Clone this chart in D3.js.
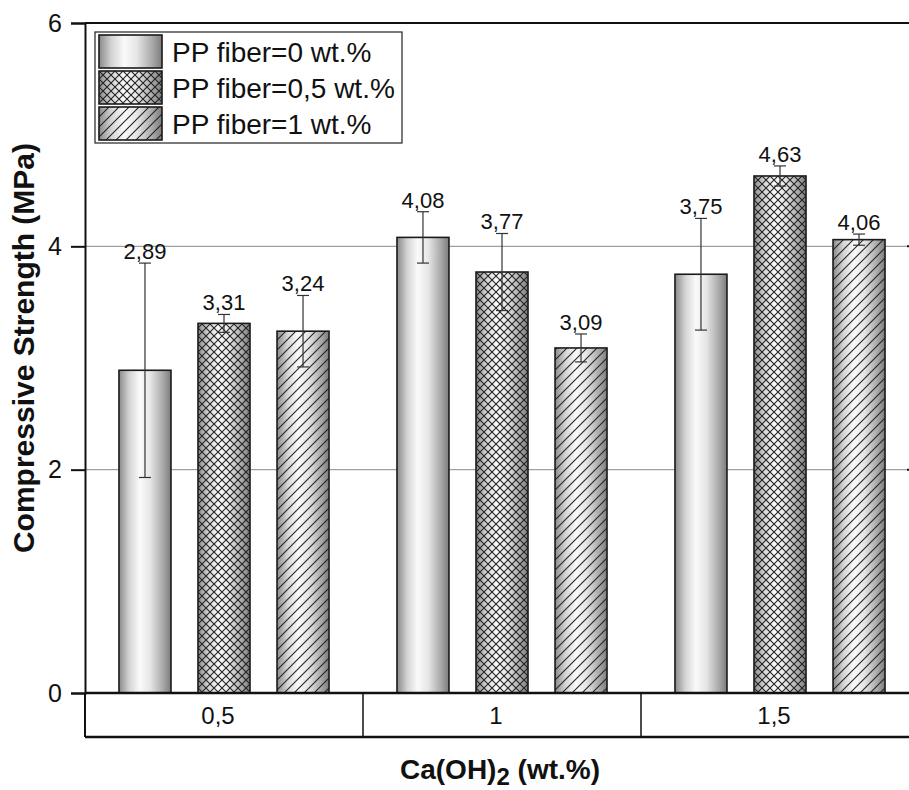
<!DOCTYPE html>
<html>
<head>
<meta charset="utf-8">
<script src="https://cdn.jsdelivr.net/npm/d3@7"></script>
<style>
  body { margin: 0; background: #fff; }
  svg { display: block; font-family: 'Liberation Sans', Arial, sans-serif; }
</style>
</head>
<body>
<svg width="909" height="790"></svg>
<script>
const categories = ['0,5', '1', '1,5'];
const series = ['PP fiber=0 wt.%', 'PP fiber=0,5 wt.%', 'PP fiber=1 wt.%'];
const fiber0 = [2.89, 4.08, 3.75];
const fiber05 = [3.31, 3.77, 4.63];
const fiber1 = [3.24, 3.09, 4.06];
const err0 = [0.96, 0.23, 0.5];
const err05 = [0.08, 0.345, 0.09];
const err1 = [0.32, 0.125, 0.05];
const yTicks = [0, 2, 4, 6];

const values = [fiber0, fiber05, fiber1];
const errors = [err0, err05, err1];
const fills = ['url(#grad)', 'url(#cross)', 'url(#hatch)'];
const font = "'Liberation Sans', Arial, sans-serif";

const data = [];
categories.forEach((c, ci) => {
    series.forEach((s, si) => {
        data.push({ cat: c, series: s, si: si, value: values[si][ci], err: errors[si][ci] });
    });
});

const svg = d3.select('svg');
const plotLeft = 85, plotRight = 919, plotTop = 23, plotBottom = 693;

const x = d3.scaleBand().domain(categories).range([plotLeft, plotRight]);
const x1 = d3.scaleBand().domain(series).range([0, x.bandwidth()])
    .paddingInner(0.342).paddingOuter(0.43);
const y = d3.scaleLinear().domain([0, 6]).range([plotBottom, plotTop]);

// defs: cylinder gradient + patterns
const defs = svg.append('defs');
const grad = defs.append('linearGradient').attr('id', 'grad')
    .attr('x1', '0%').attr('x2', '100%').attr('y1', '0%').attr('y2', '0%');
[[0, '#8a8a8a'], [0.2, '#d4d4d4'], [0.4, '#fafafa'], [0.6, '#e6e6e6'], [0.85, '#a8a8a8'], [1, '#7c7c7c']]
    .forEach(d => grad.append('stop').attr('offset', d[0]).attr('stop-color', d[1]));

const cross = defs.append('pattern').attr('id', 'cross').attr('patternUnits', 'userSpaceOnUse')
    .attr('width', 8).attr('height', 8);
cross.append('path').attr('d', 'M0,0 L8,8 M8,0 L0,8')
    .attr('stroke', '#222').attr('stroke-width', 1.1).attr('fill', 'none');

const hatch = defs.append('pattern').attr('id', 'hatch').attr('patternUnits', 'userSpaceOnUse')
    .attr('width', 10).attr('height', 10);
hatch.append('path').attr('d', 'M-2,12 L12,-2 M-2,2 L2,-2 M8,12 L12,8')
    .attr('stroke', '#222').attr('stroke-width', 1.1).attr('fill', 'none');

// gridlines
svg.append('g').selectAll('line').data([2, 4]).enter().append('line')
    .attr('x1', plotLeft).attr('x2', plotRight)
    .attr('y1', d => y(d)).attr('y2', d => y(d))
    .attr('stroke', '#a0a0a0').attr('stroke-width', 1.2);

// bars
const groups = svg.append('g').selectAll('g').data(data).enter().append('g')
    .attr('transform', d => 'translate(' + (x(d.cat) + x1(d.series)) + ',0)');

groups.append('rect')
    .attr('y', d => y(d.value)).attr('width', x1.bandwidth())
    .attr('height', d => plotBottom - y(d.value))
    .attr('fill', 'url(#grad)');
groups.filter(d => d.si > 0).append('rect')
    .attr('y', d => y(d.value)).attr('width', x1.bandwidth())
    .attr('height', d => plotBottom - y(d.value))
    .attr('fill', d => fills[d.si]);
groups.append('rect')
    .attr('y', d => y(d.value)).attr('width', x1.bandwidth())
    .attr('height', d => plotBottom - y(d.value))
    .attr('fill', 'none').attr('stroke', '#1a1a1a').attr('stroke-width', 1.6);

// error bars
const bw = x1.bandwidth();
const eb = groups.append('g').attr('stroke', '#333').attr('stroke-width', 1.2);
eb.append('line').attr('x1', bw / 2).attr('x2', bw / 2)
    .attr('y1', d => y(d.value + d.err)).attr('y2', d => y(d.value - d.err));
eb.append('line').attr('x1', bw / 2 - 6).attr('x2', bw / 2 + 6)
    .attr('y1', d => y(d.value + d.err)).attr('y2', d => y(d.value + d.err));
eb.append('line').attr('x1', bw / 2 - 6).attr('x2', bw / 2 + 6)
    .attr('y1', d => y(d.value - d.err)).attr('y2', d => y(d.value - d.err));

// value labels
groups.append('text')
    .attr('x', bw / 2).attr('y', d => y(d.value + d.err) - 4)
    .attr('text-anchor', 'middle').attr('font-size', 22).attr('fill', '#111')
    .text(d => d3.format('.2f')(d.value).replace('.', ','));

// frame
svg.append('line').attr('x1', plotLeft).attr('x2', plotRight).attr('y1', plotTop).attr('y2', plotTop)
    .attr('stroke', '#111').attr('stroke-width', 2);
svg.append('g').selectAll('line').data(yTicks).enter().append('line')
    .attr('x1', plotRight - 12).attr('x2', plotRight)
    .attr('y1', d => y(d)).attr('y2', d => y(d))
    .attr('stroke', '#111').attr('stroke-width', 2);

// y axis
const yAxis = svg.append('g').attr('transform', 'translate(' + plotLeft + ',0)')
    .call(d3.axisLeft(y).tickValues(yTicks).tickFormat(d3.format('d')).tickSize(14).tickPadding(9));
yAxis.select('.domain').attr('stroke', '#111').attr('stroke-width', 2);
yAxis.selectAll('.tick line').attr('stroke', '#111').attr('stroke-width', 2);
yAxis.selectAll('text').attr('font-size', 25).attr('fill', '#111').attr('font-family', font);

// category table
const catBottom = 737;
svg.append('line').attr('x1', plotLeft).attr('x2', plotRight).attr('y1', plotBottom).attr('y2', plotBottom)
    .attr('stroke', '#111').attr('stroke-width', 2.5);
svg.append('line').attr('x1', plotLeft).attr('x2', plotRight).attr('y1', catBottom).attr('y2', catBottom)
    .attr('stroke', '#111').attr('stroke-width', 2.5);
svg.append('line').attr('x1', plotLeft).attr('x2', plotLeft).attr('y1', plotBottom).attr('y2', catBottom)
    .attr('stroke', '#111').attr('stroke-width', 2);
svg.append('g').selectAll('line').data(categories.slice(1)).enter().append('line')
    .attr('x1', d => x(d)).attr('x2', d => x(d)).attr('y1', plotBottom).attr('y2', catBottom)
    .attr('stroke', '#111').attr('stroke-width', 1.5);
svg.append('g').selectAll('text').data(categories).enter().append('text')
    .attr('x', d => x(d) + x.bandwidth() / 2 - 6).attr('y', 724)
    .attr('text-anchor', 'middle').attr('font-size', 24).attr('fill', '#111')
    .text(d => d);

// axis titles
svg.append('text').attr('transform', 'translate(34,348) rotate(-90)')
    .attr('text-anchor', 'middle').attr('font-size', 30).attr('font-weight', 'bold').attr('fill', '#111')
    .text('Compressive Strength (MPa)');
const xt = svg.append('text').attr('x', 500).attr('y', 779)
    .attr('text-anchor', 'middle').attr('font-size', 28).attr('font-weight', 'bold').attr('fill', '#111');
xt.append('tspan').text('Ca(OH)');
xt.append('tspan').attr('dy', 6).attr('font-size', 24).text('2');
xt.append('tspan').attr('dy', -6).text(' (wt.%)');

// legend
const lg = svg.append('g').attr('transform', 'translate(95,32)');
lg.append('rect').attr('width', 307).attr('height', 111)
    .attr('fill', '#fff').attr('stroke', '#222').attr('stroke-width', 1.2);
const items = lg.selectAll('g').data(series).enter().append('g')
    .attr('transform', (d, i) => 'translate(4,' + (3 + i * 36) + ')');
items.append('rect').attr('width', 63).attr('height', 33).attr('fill', 'url(#grad)');
items.filter((d, i) => i > 0).append('rect').attr('width', 63).attr('height', 33)
    .attr('fill', (d, i) => fills[i + 1]);
items.append('rect').attr('width', 63).attr('height', 33)
    .attr('fill', 'none').attr('stroke', '#1a1a1a').attr('stroke-width', 1.6);
items.append('text').attr('x', 73).attr('y', 27).attr('font-size', 28).attr('fill', '#111')
    .text(d => d);
</script>
</body>
</html>
